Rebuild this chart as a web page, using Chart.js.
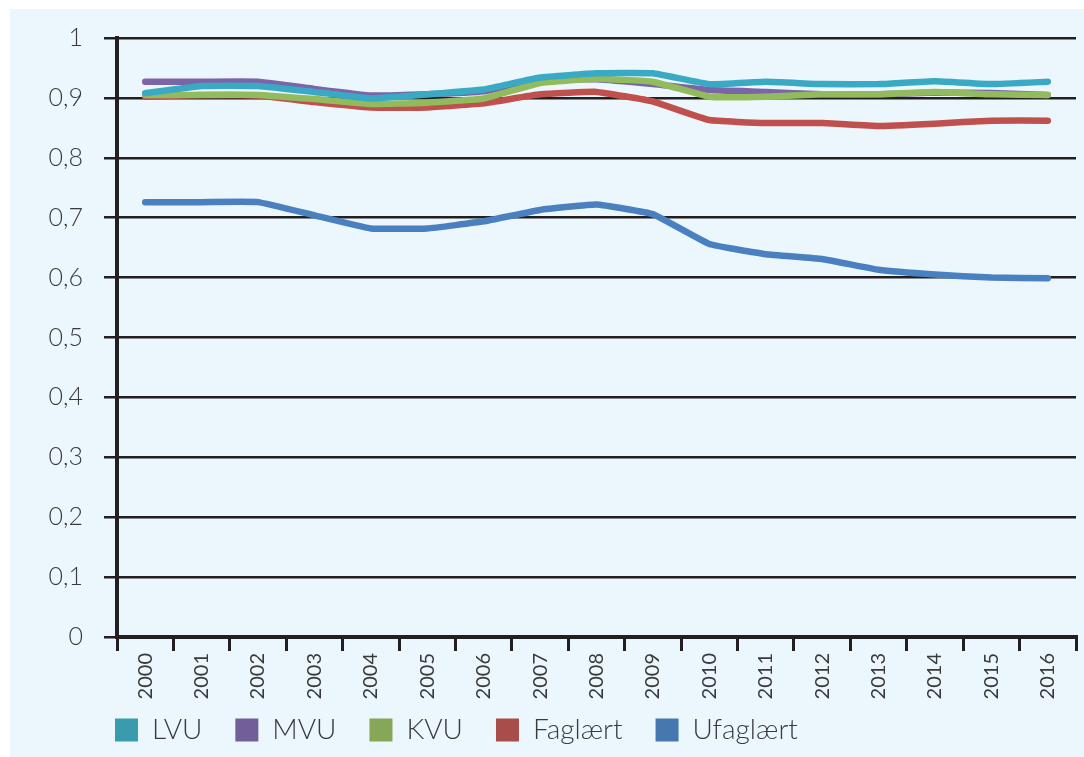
<!DOCTYPE html>
<html>
<head>
<meta charset="utf-8">
<script src="https://cdn.jsdelivr.net/npm/chart.js@4"></script>
<style>
  html, body { margin: 0; padding: 0; background: #ffffff; }
  #box { position: absolute; left: 10px; top: 9px; width: 1074px; height: 748px; background: #ebf7fd; }
</style>
</head>
<body>
<div id="box"><canvas id="chart" width="1074" height="748"></canvas></div>
<script>
const years = ["2000", "2001", "2002", "2003", "2004", "2005", "2006", "2007", "2008",
               "2009", "2010", "2011", "2012", "2013", "2014", "2015", "2016"];
const yTickLabels = ["0", "0,1", "0,2", "0,3", "0,4", "0,5", "0,6", "0,7", "0,8", "0,9", "1"];

const lvu = [0.908, 0.920, 0.920, 0.910, 0.899, 0.906, 0.914, 0.934, 0.941, 0.941, 0.923, 0.927, 0.923, 0.923, 0.928, 0.923, 0.927];
const mvu = [0.927, 0.927, 0.927, 0.915, 0.904, 0.906, 0.911, 0.930, 0.931, 0.923, 0.913, 0.910, 0.906, 0.906, 0.909, 0.908, 0.905];
const kvu = [0.905, 0.905, 0.905, 0.898, 0.890, 0.892, 0.899, 0.925, 0.932, 0.927, 0.902, 0.902, 0.906, 0.906, 0.910, 0.906, 0.905];
const faglaert = [0.902, 0.905, 0.904, 0.893, 0.884, 0.884, 0.891, 0.906, 0.910, 0.894, 0.863, 0.858, 0.858, 0.853, 0.857, 0.862, 0.862];
const ufaglaert = [0.726, 0.726, 0.726, 0.704, 0.682, 0.682, 0.694, 0.713, 0.722, 0.706, 0.656, 0.639, 0.631, 0.613, 0.605, 0.600, 0.599];

const textColor = "#3a3a3a";
const lineColor = "#231f20";

// line colour, legend swatch colour
function series(label, data, color, swatch, order) {
    return {
        label: label,
        data: data,
        borderColor: color,
        backgroundColor: swatch,
        borderWidth: 6.5,
        pointRadius: 0,
        tension: 0.1,
        borderCapStyle: "round",
        borderJoinStyle: "round",
        order: order
    };
}

// put the legend where the original has it (left under the axis)
const placeLegend = {
    id: "placeLegend",
    afterLayout(chart) {
        chart.legend.left = 72;
        chart.legend.top = 674;
    }
};

new Chart(document.getElementById("chart"), {
    type: "line",
    data: {
        labels: years,
        datasets: [
            series("LVU", lvu, "#3aaac4", "#3a9aae", 0),
            series("MVU", mvu, "#7b64a8", "#705f98", 2),
            series("KVU", kvu, "#92bb5e", "#86a658", 1),
            series("Faglært", faglaert, "#c0504d", "#a84d4a", 3),
            series("Ufaglært", ufaglaert, "#4a80c0", "#4677ae", 4)
        ]
    },
    plugins: [placeLegend],
    options: {
        responsive: false,
        animation: false,
        layout: { padding: { top: 29, right: 8, left: 0, bottom: 0 } },
        plugins: {
            tooltip: { enabled: false },
            legend: {
                position: "bottom",
                align: "start",
                maxHeight: 56,
                labels: {
                    boxWidth: 23,
                    boxHeight: 23,
                    padding: 33,
                    color: textColor,
                    font: { family: "Lato", size: 28, weight: "300" },
                    sort: (a, b) => a.datasetIndex - b.datasetIndex,
                    generateLabels: (chart) => {
                        const items = Chart.defaults.plugins.legend.labels.generateLabels(chart);
                        items.forEach((item) => {
                            const ds = chart.data.datasets[item.datasetIndex];
                            item.fillStyle = ds.backgroundColor;
                            item.strokeStyle = ds.backgroundColor;
                            item.lineWidth = 0;
                        });
                        return items;
                    }
                }
            }
        },
        scales: {
            x: {
                offset: true,
                afterFit: (scale) => { scale.height = 64; },
                border: { display: true, color: lineColor, width: 4 },
                grid: {
                    offset: true,
                    drawOnChartArea: false,
                    drawTicks: true,
                    tickLength: 14,
                    color: lineColor,
                    lineWidth: 3
                },
                ticks: {
                    minRotation: 90,
                    maxRotation: 90,
                    padding: 2,
                    color: textColor,
                    font: { family: "Lato", size: 20 }
                }
            },
            y: {
                min: 0,
                max: 1,
                afterFit: (scale) => {
                    scale.width = 107;
                    scale.paddingTop = 0;
                },
                border: { display: true, color: lineColor, width: 4 },
                grid: {
                    color: lineColor,
                    lineWidth: 2.5,
                    tickLength: 13
                },
                ticks: {
                    stepSize: 0.1,
                    padding: 21,
                    color: textColor,
                    font: { family: "Lato", size: 25, weight: "300" },
                    callback: (value, index) => yTickLabels[index]
                }
            }
        }
    }
});
</script>
</body>
</html>
